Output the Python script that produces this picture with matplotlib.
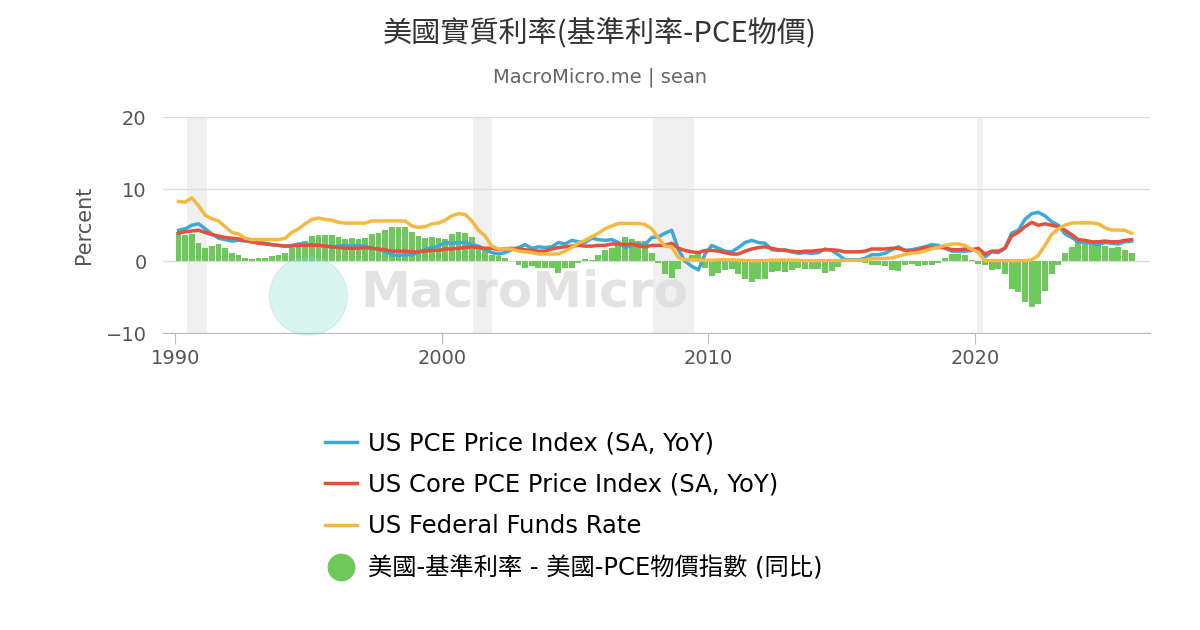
import matplotlib
matplotlib.use("Agg")
import matplotlib.pyplot as plt
import numpy as np
from matplotlib.patches import Ellipse
from matplotlib.lines import Line2D

plt.rcParams['font.family'] = ['DejaVu Sans', 'Noto Sans CJK TC']

start_year = 1990
pce = [4.3,4.5,5.0,5.2, 4.5,3.8,3.2,3.0, 2.8,2.9,2.8,2.7, 2.6,2.5,2.3,2.2, 2.1,2.2,2.4,2.4,
       2.3,2.3,2.1,2.0, 2.1,2.2,2.1,2.2, 2.1,1.8,1.7,1.3, 0.9,0.8,0.9,0.9, 1.2,1.6,1.9,2.1,
       2.6,2.5,2.6,2.6, 2.3,2.1,1.6,1.2, 1.0,1.2,1.6,1.9, 2.3,1.8,2.0,1.9, 2.0,2.6,2.4,2.9,
       2.7,2.6,3.2,3.0, 2.9,3.0,2.6,1.9, 2.2,2.4,2.3,3.3, 3.4,3.9,4.3,1.6, 0.0,-0.7,-1.2,1.0,
       2.2,1.8,1.4,1.3, 1.9,2.6,2.9,2.6, 2.5,1.6,1.5,1.6, 1.3,1.1,1.2,1.1, 1.2,1.7,1.5,0.9,
       0.2,0.2,0.2,0.4, 0.9,0.9,1.1,1.6, 2.0,1.5,1.6,1.8, 2.0,2.3,2.2,1.8, 1.4,1.4,1.4,1.5,
       1.7,0.6,1.3,1.2, 1.8,3.9,4.3,5.8, 6.6,6.8,6.3,5.5, 5.0,3.8,3.3,2.7, 2.6,2.5,2.3,2.6,
       2.5,2.4,2.7,2.8]
core = [3.9,4.1,4.2,4.3, 4.0,3.7,3.5,3.3, 3.2,3.1,2.9,2.7, 2.5,2.4,2.3,2.2, 2.1,2.1,2.2,2.2,
        2.2,2.2,2.1,2.0, 1.9,1.8,1.8,1.8, 1.9,1.8,1.7,1.6, 1.4,1.4,1.4,1.3, 1.3,1.4,1.5,1.5,
        1.7,1.7,1.8,1.9, 2.0,1.9,1.8,1.8, 1.6,1.7,1.8,1.7, 1.6,1.5,1.4,1.4, 1.7,1.9,2.0,2.1,
        2.2,2.1,2.1,2.2, 2.2,2.4,2.4,2.3, 2.4,2.1,2.0,2.2, 2.2,2.2,2.5,1.8, 1.5,1.3,1.2,1.5,
        1.5,1.4,1.2,1.0, 1.0,1.4,1.7,1.9, 2.0,1.8,1.6,1.5, 1.4,1.3,1.4,1.4, 1.5,1.6,1.6,1.5,
        1.3,1.3,1.3,1.4, 1.7,1.7,1.7,1.8, 1.8,1.5,1.4,1.6, 1.9,1.9,1.9,1.9, 1.6,1.6,1.7,1.6,
        1.8,1.0,1.4,1.4, 1.8,3.5,4.0,4.8, 5.4,5.0,5.2,5.0, 4.8,4.3,3.7,3.0, 2.9,2.7,2.7,2.8,
        2.7,2.7,2.9,3.0]
fed = [8.3,8.2,8.8,7.7, 6.4,5.9,5.6,4.8, 4.0,3.8,3.2,3.0, 3.0,3.0,3.0,3.0, 3.2,4.0,4.5,5.2,
       5.8,6.0,5.8,5.7, 5.4,5.3,5.3,5.3, 5.3,5.6,5.6,5.6, 5.6,5.6,5.6,4.9, 4.7,4.8,5.2,5.3,
       5.7,6.3,6.6,6.5, 5.6,4.3,3.5,2.1, 1.7,1.7,1.7,1.4, 1.3,1.2,1.0,1.0, 1.0,1.0,1.4,1.9,
       2.5,2.9,3.4,3.9, 4.5,4.9,5.25,5.25, 5.25,5.25,5.1,4.5, 3.2,2.1,2.0,0.5, 0.2,0.2,0.15,0.12,
       0.13,0.19,0.19,0.19, 0.16,0.09,0.08,0.07, 0.1,0.15,0.14,0.16, 0.14,0.11,0.08,0.09, 0.07,0.09,0.09,0.1,
       0.11,0.13,0.14,0.16, 0.36,0.37,0.4,0.45, 0.7,0.95,1.15,1.2, 1.45,1.75,1.92,2.2, 2.4,2.4,2.2,1.65,
       1.25,0.06,0.09,0.09, 0.08,0.07,0.08,0.08, 0.2,0.8,2.2,3.7, 4.5,5.0,5.3,5.33, 5.33,5.33,5.2,4.65,
       4.33,4.33,4.3,3.9]
recessions = [(1990.45, 1991.2), (2001.17, 2001.9), (2007.92, 2009.46), (2020.07, 2020.3)]

n = len(pce)
x = start_year + np.arange(n) / 4 + 0.125
real = np.array(fed) - np.array(pce)

W, H = 12, 6.3
fig = plt.figure(figsize=(W, H), dpi=100)
ax = fig.add_axes([0.136, 0.471, 0.822, 0.343])

for a, b in recessions:
    ax.axvspan(a, b, color='#f0f0f0', zorder=0, lw=0)

# watermark
fig.patches.append(Ellipse((0.257, 0.53), 78 / 1200, 78 / 630, transform=fig.transFigure,
                           color='#7fe0cf', alpha=0.3, zorder=1))
fig.text(0.30, 0.536, 'MacroMicro', fontsize=36, fontweight='bold', color='#dddddd',
         alpha=0.8, ha='left', va='center', zorder=1)

ax.bar(x, real, width=0.22, color='#6cc95a', zorder=2)
l1, = ax.plot(x, pce, color='#3ea9d8', lw=2.5, zorder=3)
l2, = ax.plot(x, core, color='#e5503c', lw=2.5, zorder=4)
l3, = ax.plot(x, fed, color='#f5b942', lw=2.5, zorder=5)
dot = Line2D([], [], marker='o', color='#6cc95a', ls='none', markersize=19)

ax.set_xlim(1989.55, 2026.55)
ax.set_ylim(-10, 20)
ax.set_yticks([-10, 0, 10, 20])
ax.set_xticks([1990, 2000, 2010, 2020])
ax.grid(axis='y', color='#dddddd', lw=1)
ax.set_axisbelow(True)
for s in ['top', 'right', 'left']:
    ax.spines[s].set_visible(False)
ax.spines['bottom'].set_color('#bbbbbb')
ax.tick_params(axis='y', length=0, labelsize=14, labelcolor='#555555', pad=12)
ax.tick_params(axis='x', length=8, color='#bbbbbb', labelsize=14, labelcolor='#555555')
ax.set_ylabel('Percent', fontsize=15, color='#555555', labelpad=8)

fig.text(0.5, 0.947, '美國實質利率(基準利率-PCE物價)', ha='center', va='center', fontsize=21,
         color='#333333', family=['Noto Sans CJK TC', 'DejaVu Sans'])
fig.text(0.5, 0.877, 'MacroMicro.me | sean', ha='center', va='center', fontsize=14, color='#666666')

fig.legend([l1, l2, l3, dot],
           ['US PCE Price Index (SA, YoY)', 'US Core PCE Price Index (SA, YoY)',
            'US Federal Funds Rate', '美國-基準利率 - 美國-PCE物價指數 (同比)'],
           loc='upper left', bbox_to_anchor=(0.253, 0.35), frameon=False, fontsize=17.5,
           handlelength=1.3, handletextpad=0.45, labelspacing=0.72)
plt.savefig('out.png', dpi=100)
